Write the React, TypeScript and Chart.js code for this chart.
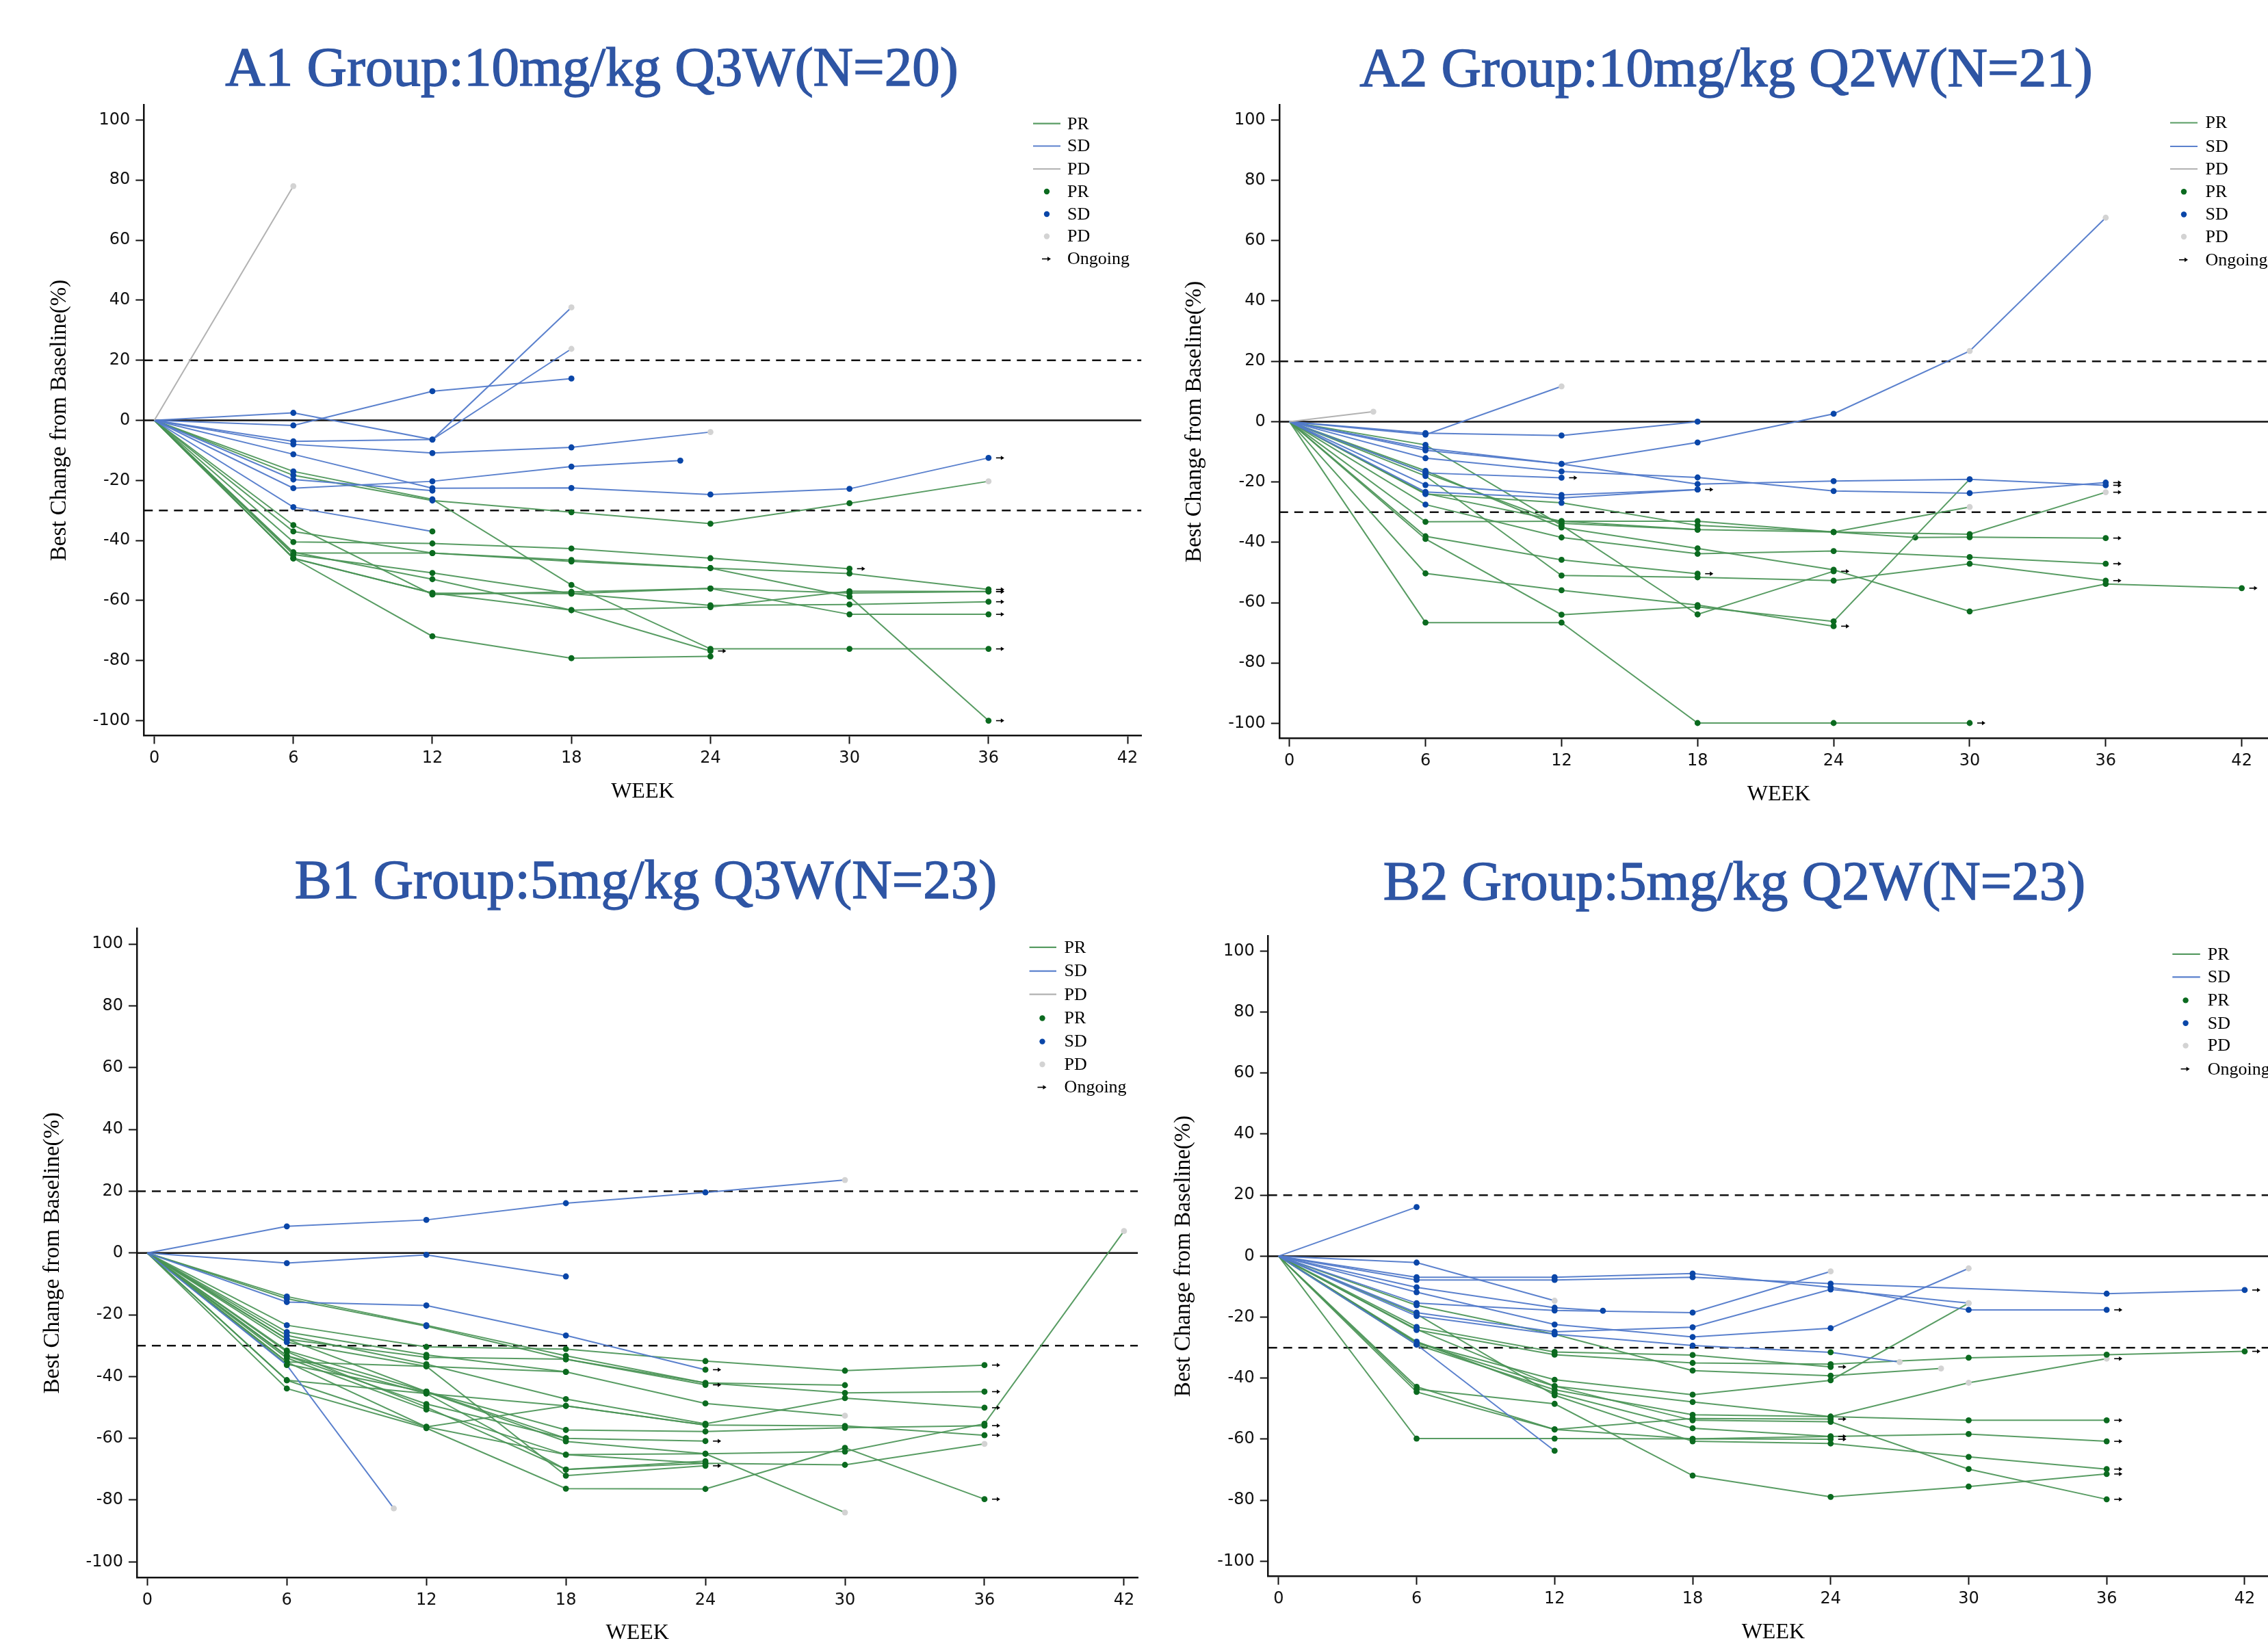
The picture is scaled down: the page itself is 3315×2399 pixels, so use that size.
import React, { useEffect, useRef } from "react";
import { Chart, registerables } from "chart.js";
Chart.register(...registerables);

// ---------------- DATA ----------------
const WEEK_TICKS = [0, 6, 12, 18, 24, 30, 36, 42];
const CHANGE_TICKS = [-100, -80, -60, -40, -20, 0, 20, 40, 60, 80, 100];
const REF_SOLID = [0];
const REF_DASHED = [20, -30];

const PANEL_TITLES = [
  "A1 Group:10mg/kg Q3W(N=20)",
  "A2 Group:10mg/kg Q2W(N=21)",
  "B1 Group:5mg/kg Q3W(N=23)",
  "B2 Group:5mg/kg Q2W(N=23)",
];
const Y_TITLE = "Best Change from Baseline(%)";
const X_TITLE = "WEEK";

// ---- A1 ----
const A1_RESP = ["PD", "SD", "SD", "SD", "SD", "SD", "SD", "SD", "SD", "PR", "PR", "PR", "PR", "PR", "PR", "PR", "PR", "PR", "PR", "PR"];
const A1_WEEKS = [
  [6], [6, 12, 18], [6, 12, 18], [6, 12, 18], [6, 12, 18, 24], [6, 12, 18, 24, 30, 36], [6, 12, 18, 22.7], [6, 12], [6, 12],
  [6, 12, 18, 24, 30, 36], [6, 12, 18, 24, 30], [6, 12, 18, 24, 30, 36], [6, 12, 18, 24, 30, 36], [6, 12, 18, 24, 30, 36],
  [6, 12, 18, 24, 30, 36], [6, 12, 18, 24, 30, 36], [6, 12, 18, 24], [6, 12, 18, 24], [6, 12, 18, 24, 30, 36], [6, 12, 18, 24, 30, 36],
];
const A1_CHANGE = [
  [78], [2.5, -6.4, 37.6], [-7, -6.4, 23.8], [-1.7, 9.7, 13.9], [-8, -10.9, -9, -3.9], [-11.3, -22.6, -22.5, -24.7, -22.8, -12.5],
  [-22.6, -20.3, -15.4, -13.4], [-28.9, -37], [-19.7, -23.4],
  [-18.3, -26.7, -30.6, -34.4, -27.6, -20.3], [-40.5, -41, -42.7, -45.9, -49.4], [-37, -44.2, -46.5, -49.2, -51, -56.3],
  [-34.9, -58, -57.1, -56, -64.6, -64.6], [-44.7, -50.8, -57.7, -61.6, -61.3, -60.4], [-43.9, -52.9, -63.2, -62.2, -56.9, -57],
  [-17, -26.3, -54.8, -76.1, -76.1, -76.1], [-45.9, -57.5, -63.2, -76.8], [-45.9, -71.9, -79.2, -78.6],
  [-44.2, -44.2, -47, -49.2, -58.7, -100], [-46, -57.5, -57.7, -56, -57.5, -57],
];
const A1_PD_WEEKS = [[6], [18], [18], [], [24], [], [], [], [], [36], [], [], [], [], [], [], [], [], [], []];
const A1_ONGOING = [0, 0, 0, 0, 0, 1, 0, 0, 0, 0, 1, 1, 1, 1, 1, 1, 1, 0, 1, 1];

// ---- A2 ----
const A2_RESP = ["PD", "SD", "SD", "SD", "SD", "SD", "SD", "SD", "SD", "PR", "PR", "PR", "PR", "PR", "PR", "PR", "PR", "PR", "PR", "PR", "PR"];
const A2_WEEKS = [
  [3.7], [6, 12, 18], [6, 12], [6, 12, 18, 24, 30, 36], [6, 12, 18, 24, 30, 36], [6, 12], [6, 12, 18, 24, 30, 36], [6, 12, 18], [6, 12, 18],
  [6, 12, 18, 24, 30], [6, 12, 18, 24], [6, 12, 18, 24, 30], [6, 12, 18], [6, 12, 18, 24, 30, 36], [6, 12, 18, 24],
  [6, 12, 18, 24, 30, 36], [6, 12, 18, 24, 30, 36], [6, 12, 18, 24, 30, 36, 42], [6, 12, 18, 24, 27.6, 30, 36], [6, 12, 18, 24, 30], [6, 12, 18],
];
const A2_CHANGE = [
  [3.3], [-3.8, -4.6, 0], [-4.3, 11.7], [-9.5, -14, -6.9, 2.6, 23.4, 67.6], [-12.1, -16.5, -18.5, -23, -23.7, -20.2], [-17, -18.6],
  [-8.8, -14, -20.7, -19.7, -19.1, -21.1], [-23.3, -25.3, -22.5], [-21, -24.3, -22.5],
  [-66.6, -66.6, -99.9, -99.9, -99.9], [-50.3, -55.9, -60.8, -67.8], [-38.9, -64, -61.4, -66.2, -19.1], [-38, -45.8, -50.4],
  [-33.2, -33, -33, -36.6, -37.3, -23.4], [-7.7, -34.4, -63.9, -49.6], [-27.5, -38.4, -43.8, -42.9, -44.9, -47.1],
  [-18, -51, -51.6, -52.7, -47.1, -52.7], [-16.3, -35.1, -42, -49.1, -62.9, -53.8, -55.2], [-17, -33.7, -35.8, -36.6, -38.4, -38.3, -38.6],
  [-24, -26.9, -34.4, -36.6, -28.3], [-23.8, -33, -35.8],
];
const A2_PD_WEEKS = [[3.7], [], [12], [30, 36], [], [], [], [], [], [], [], [30], [], [36], [], [], [], [], [], [30], []];
const A2_ONGOING = [0, 0, 0, 0, 1, 1, 1, 1, 0, 1, 1, 0, 1, 1, 1, 1, 1, 1, 1, 0, 0];

// ---- B1 ----
const B1_RESP = ["SD", "SD", "SD", "SD", "PR", "PR", "PR", "PR", "PR", "PR", "PR", "PR", "PR", "PR", "PR", "PR", "PR", "PR", "PR", "PR", "PR", "PR", "PR"];
const B1_WEEKS = [
  [6, 12, 18, 24, 30], [6, 12, 18], [6, 12, 18, 24], [6, 10.6],
  [6, 12, 18, 24, 30, 36], [6, 12, 18, 24], [6, 12, 18, 24, 30, 36], [6, 12, 18, 24, 30], [6, 12, 18, 24, 30, 36],
  [6, 12, 18, 24, 30, 36], [6, 12, 18, 24], [6, 12, 18, 24, 30, 36, 42], [6, 12, 18, 24, 30, 36], [6, 12, 18, 24, 30, 36],
  [6, 12, 18, 24, 30, 36], [6, 12, 18, 24, 30], [6, 12, 18, 24, 30], [6, 12, 18, 24], [6, 12, 18, 24], [6, 12, 18],
  [6, 12, 18, 24], [6, 12, 18], [6, 12, 18, 24],
];
const B1_CHANGE = [
  [8.6, 10.7, 16.1, 19.6, 23.6], [-3.3, -0.6, -7.6], [-15.9, -17, -26.7, -37.8], [-36.3, -82.7],
  [-14.1, -23.4, -33.3, -42.1, -45.3, -44.9], [-14.8, -23.7, -34.4, -42.7], [-23.4, -30.4, -31.1, -35, -38.1, -36.3],
  [-25.6, -33, -38.5, -48.7, -52.7], [-26.7, -36, -47.3, -55.3, -47, -50.1], [-31.6, -44.9, -57.3, -57.8, -56.6, -55.9],
  [-33.3, -48.9, -60, -60.9], [-34, -50.7, -65.3, -65, -64.3, -55.3, 7.1], [-35.3, -56.3, -49.5, -55.7, -56, -59],
  [-41.2, -45.5, -70.1, -68.1, -68.6, -61.8], [-43.9, -56.7, -76.3, -76.4, -63.1, -79.7], [-36, -45, -61, -65, -84],
  [-27.9, -33.8, -34.4, -42.1, -42.8], [-28.9, -36.7, -72.1, -68.9], [-32, -49.9, -70.1, -67.4], [-35.3, -36.7, -38.5],
  [-41.2, -56.3, -65.3, -68.1], [-27.9, -44.9, -60], [-33.3, -45.5, -49.5, -55.7],
];
const B1_PD_WEEKS = [[30], [], [], [10.6], [], [], [], [30], [], [], [], [42], [], [36], [], [30], [], [], [], [], [], [], []];
const B1_ONGOING = [0, 0, 1, 0, 1, 1, 1, 0, 1, 1, 1, 0, 1, 0, 1, 0, 0, 1, 0, 0, 0, 0, 0];

// ---- B2 ----
const B2_RESP = ["SD", "SD", "SD", "SD", "SD", "SD", "SD", "SD", "SD", "SD", "PR", "PR", "PR", "PR", "PR", "PR", "PR", "PR", "PR", "PR", "PR", "PR", "PR"];
const B2_WEEKS = [
  [6], [6, 12], [6, 12, 18, 24, 30, 36], [6, 12, 18, 24, 36, 42], [6, 12, 14.1], [6, 12, 18, 24, 30], [6, 12, 18, 24],
  [6, 12, 18, 24, 30], [6, 12], [6, 12, 18, 24, 27],
  [6, 12, 18, 24], [6, 12, 18, 24, 30, 36], [6, 12, 18, 24], [6, 12, 18, 24], [6, 12, 18, 24, 30, 36, 42], [6, 12, 18, 24, 28.8],
  [6, 12, 18, 24, 30], [6, 12, 18, 24, 30, 36], [6, 12, 18, 24, 30, 36], [6, 12, 18, 24, 30, 36], [6, 12, 18, 24, 30, 36],
  [6, 12, 18, 24, 30, 36], [6, 12, 18, 24],
];
const B2_CHANGE = [
  [16.1], [-2.1, -14.6], [-6.9, -6.9, -5.7, -10.2, -17.6, -17.6], [-7.8, -7.8, -6.9, -9, -12.3, -11.1], [-10.2, -16.9, -17.9],
  [-11.8, -22.4, -26.5, -23.6, -4], [-15.4, -17.8, -18.5, -5], [-18.5, -24.8, -23.3, -10.9, -15.4], [-29, -63.8],
  [-19.6, -25.6, -29.3, -31.5, -34.7],
  [-59.8, -59.8, -59.9, -60], [-43.6, -48.4, -71.9, -78.9, -75.5, -71.4], [-42.8, -56.8, -53.2, -53.4], [-23.2, -31.4, -32.4, -36.3],
  [-24.2, -32.3, -35, -35.4, -33.3, -32.3, -31.2], [-16.1, -25.6, -37.5, -39.2, -36.8], [-28.4, -40.5, -45.4, -40.7, -15.4],
  [-28.4, -42.6, -47.8, -52.6, -41.5, -33.6], [-29, -43.8, -52, -52.6, -53.8, -53.8], [-28, -44.8, -56.4, -59.1, -58.3, -60.7],
  [-19, -45.6, -60.7, -61.4, -65.8, -69.8], [-24, -42.6, -53.8, -54.3, -69.8, -79.7], [-44.5, -56.8, -59.9, -59.1],
];
const B2_PD_WEEKS = [[], [12], [], [], [], [30], [24], [30], [], [27], [], [], [], [], [], [28.8], [30], [30, 36], [], [], [], [], []];
const B2_ONGOING = [0, 0, 1, 1, 0, 0, 0, 0, 0, 0, 1, 1, 1, 1, 1, 0, 0, 1, 1, 1, 1, 1, 1];

// ---------------- STYLE ----------------
const LINE_COLORS: Record<string, string> = { PR: "rgba(74,148,86,0.92)", SD: "rgba(82,122,202,0.95)", PD: "#b2b2b2" };
const DOT_COLORS: Record<string, string> = { PR: "#0b6a1f", SD: "#0a46a8", PD: "#d3d3d3" };
const TITLE_COLOR = "#2e55a4";
const SERIF = '"Liberation Serif", "Times New Roman", serif';
const SANS = '"DejaVu Sans", Verdana, sans-serif';

type LegendItem = { kind: "line" | "dot" | "arrow"; key: string; label: string };
const LEGEND_FULL: LegendItem[] = [
  { kind: "line", key: "PR", label: "PR" },
  { kind: "line", key: "SD", label: "SD" },
  { kind: "line", key: "PD", label: "PD" },
  { kind: "dot", key: "PR", label: "PR" },
  { kind: "dot", key: "SD", label: "SD" },
  { kind: "dot", key: "PD", label: "PD" },
  { kind: "arrow", key: "", label: "Ongoing" },
];
const LEGEND_NO_PD_LINE: LegendItem[] = LEGEND_FULL.filter((it) => !(it.kind === "line" && it.key === "PD"));

type PanelCfg = {
  title: string;
  titleX: number;
  titleBase: number;
  canvas: { left: number; top: number; w: number; h: number };
  area: { l: number; t: number; r: number; b: number };
  xMin: number;
  xMax: number;
  yMin: number;
  yMax: number;
  legend: { x0: number; x1: number; dot: number; text: number; rows: number[]; items: LegendItem[] };
  resp: string[];
  weeks: number[][];
  change: number[][];
  pd: number[][];
  ongoing: number[];
};

const PANELS: PanelCfg[] = [
  {
    title: PANEL_TITLES[0], titleX: 865, titleBase: 125,
    canvas: { left: 0, top: 20, w: 1700, h: 1180 },
    area: { l: 210.3, t: 153.5, r: 1668.4, b: 1075.5 },
    xMin: -0.45, xMax: 42.6, yMin: -105, yMax: 105,
    legend: { x0: 1510, x1: 1550, dot: 1530, text: 1560, rows: [180.7, 213.5, 247, 280, 313, 345.5, 378.5], items: LEGEND_FULL },
    resp: A1_RESP, weeks: A1_WEEKS, change: A1_CHANGE, pd: A1_PD_WEEKS, ongoing: A1_ONGOING,
  },
  {
    title: PANEL_TITLES[1], titleX: 2523, titleBase: 126,
    canvas: { left: 1700, top: 20, w: 1640, h: 1180 },
    area: { l: 1869.8, t: 153.3, r: 3330, b: 1079.5 },
    xMin: -0.45, xMax: 43.61, yMin: -105, yMax: 105,
    legend: { x0: 3172, x1: 3212, dot: 3192, text: 3223.5, rows: [179.5, 214, 247, 280.3, 313.5, 346, 379.8], items: LEGEND_FULL },
    resp: A2_RESP, weeks: A2_WEEKS, change: A2_CHANGE, pd: A2_PD_WEEKS, ongoing: A2_ONGOING,
  },
  {
    title: PANEL_TITLES[2], titleX: 944, titleBase: 1313,
    canvas: { left: 0, top: 1200, w: 1700, h: 1199 },
    area: { l: 200, t: 1357.5, r: 1663.3, b: 2305.9 },
    xMin: -0.45, xMax: 42.6, yMin: -105, yMax: 105,
    legend: { x0: 1504.6, x1: 1544, dot: 1523.5, text: 1555.6, rows: [1384.8, 1419.6, 1453.7, 1488.5, 1522.6, 1556, 1589.5], items: LEGEND_FULL },
    resp: B1_RESP, weeks: B1_WEEKS, change: B1_CHANGE, pd: B1_PD_WEEKS, ongoing: B1_ONGOING,
  },
  {
    title: PANEL_TITLES[3], titleX: 2535, titleBase: 1315,
    canvas: { left: 1700, top: 1200, w: 1640, h: 1199 },
    area: { l: 1853.7, t: 1368.1, r: 3330, b: 2304.7 },
    xMin: -0.45, xMax: 43.46, yMin: -105, yMax: 105,
    legend: { x0: 3175.3, x1: 3215.8, dot: 3194.6, text: 3226.8, rows: [1394.8, 1428.3, 1462.4, 1495.8, 1528.6, 1562.7], items: LEGEND_NO_PD_LINE },
    resp: B2_RESP, weeks: B2_WEEKS, change: B2_CHANGE, pd: B2_PD_WEEKS, ongoing: B2_ONGOING,
  },
];

function dotColors(resp: string, weeks: number[], vals: number[], pd: number[]): string[] {
  let reached = false;
  return weeks.map((w, i) => {
    const v = vals[i];
    if (resp === "PD" || pd.includes(w) || v >= 20) return DOT_COLORS.PD;
    if (v <= -30) {
      reached = true;
      return DOT_COLORS.PR;
    }
    if (resp === "PR" && reached) return DOT_COLORS.PR;
    return DOT_COLORS.SD;
  });
}

function drawArrow(ctx: CanvasRenderingContext2D, x0: number, x1: number, y: number) {
  ctx.save();
  ctx.strokeStyle = "#000";
  ctx.fillStyle = "#000";
  ctx.lineWidth = 1.6;
  ctx.beginPath();
  ctx.moveTo(x0, y);
  ctx.lineTo(x1 - 3, y);
  ctx.stroke();
  ctx.beginPath();
  ctx.moveTo(x1, y);
  ctx.lineTo(x1 - 5, y - 3.2);
  ctx.lineTo(x1 - 5, y + 3.2);
  ctx.closePath();
  ctx.fill();
  ctx.restore();
}

function PanelChart({ p }: { p: PanelCfg }) {
  const ref = useRef<HTMLCanvasElement | null>(null);
  useEffect(() => {
    const canvas = ref.current;
    if (!canvas) return;
    const { left, top, w, h } = p.canvas;
    const a = p.area;
    const padTop = a.t - top;
    const yW = a.l - left;
    const padRight = left + w - a.r;
    const xH = top + h - a.b;

    const datasets: any[] = [];
    p.resp.forEach((r, i) => {
      const wk = p.weeks[i];
      const vals = p.change[i];
      const pts = [{ x: 0, y: 0 }, ...wk.map((x, j) => ({ x, y: vals[j] }))];
      const cols = ["rgba(0,0,0,0)", ...dotColors(r, wk, vals, p.pd[i])];
      datasets.push({
        data: pts,
        showLine: true,
        borderColor: LINE_COLORS[r],
        borderWidth: 2,
        tension: 0,
        pointRadius: pts.map((_, j) => (j === 0 ? 0 : 4.4)),
        pointBackgroundColor: cols,
        pointBorderColor: cols,
        pointBorderWidth: 0,
        order: 1,
      });
    });
    REF_SOLID.forEach((lv) => {
      datasets.push({
        data: [{ x: p.xMin, y: lv }, { x: p.xMax, y: lv }],
        showLine: true, borderColor: "#111", borderWidth: 2.5, pointRadius: 0, order: 100,
      });
    });
    REF_DASHED.forEach((lv) => {
      datasets.push({
        data: [{ x: p.xMin, y: lv }, { x: p.xMax, y: lv }],
        showLine: true, borderColor: "#111", borderWidth: 2.5, borderDash: [13, 9], pointRadius: 0, order: 100,
      });
    });

    const nPatients = p.resp.length;
    const decor = {
      id: "decor",
      afterDraw(chart: any) {
        const ctx: CanvasRenderingContext2D = chart.ctx;
        const ca = chart.chartArea;
        // ongoing arrows
        for (let i = 0; i < nPatients; i++) {
          if (!p.ongoing[i]) continue;
          const meta = chart.getDatasetMeta(i);
          const el = meta.data[meta.data.length - 1];
          if (el) drawArrow(ctx, el.x + 11, el.x + 23, el.y);
        }
        // title (slightly heavier stroke, like the reference)
        ctx.save();
        ctx.fillStyle = TITLE_COLOR;
        ctx.strokeStyle = TITLE_COLOR;
        ctx.lineWidth = 1.4;
        ctx.font = `81px ${SERIF}`;
        ctx.textAlign = "center";
        ctx.textBaseline = "alphabetic";
        ctx.fillText(p.title, p.titleX - left, p.titleBase - top);
        ctx.strokeText(p.title, p.titleX - left, p.titleBase - top);
        ctx.restore();
        // y title
        ctx.save();
        ctx.fillStyle = "#000";
        ctx.font = `33px ${SERIF}`;
        ctx.translate(ca.left - 123, (ca.top + ca.bottom) / 2);
        ctx.rotate(-Math.PI / 2);
        ctx.textAlign = "center";
        ctx.textBaseline = "middle";
        ctx.fillText(Y_TITLE, 0, 0);
        ctx.restore();
        // x title
        ctx.save();
        ctx.fillStyle = "#000";
        ctx.font = `32px ${SERIF}`;
        ctx.textAlign = "center";
        ctx.textBaseline = "alphabetic";
        ctx.fillText(X_TITLE, (ca.left + ca.right) / 2, ca.bottom + 90.5);
        ctx.restore();
        // legend
        const lg = p.legend;
        lg.items.forEach((it, k) => {
          const y = lg.rows[k] - top;
          ctx.save();
          if (it.kind === "line") {
            ctx.strokeStyle = LINE_COLORS[it.key];
            ctx.lineWidth = 2.2;
            ctx.beginPath();
            ctx.moveTo(lg.x0 - left, y);
            ctx.lineTo(lg.x1 - left, y);
            ctx.stroke();
          } else if (it.kind === "dot") {
            ctx.fillStyle = DOT_COLORS[it.key];
            ctx.beginPath();
            ctx.arc(lg.dot - left, y, 4.2, 0, Math.PI * 2);
            ctx.fill();
          } else {
            drawArrow(ctx, lg.dot - left - 7, lg.dot - left + 6, y);
          }
          ctx.fillStyle = "#000";
          ctx.font = `26px ${SERIF}`;
          ctx.textAlign = "left";
          ctx.textBaseline = "middle";
          ctx.fillText(it.label, lg.text - left, y + 1);
          ctx.restore();
        });
      },
    };

    const tickFont = { family: SANS, size: 24 };
    const chart = new Chart(canvas, {
      type: "scatter",
      data: { datasets },
      options: {
        animation: false,
        responsive: false,
        devicePixelRatio: 1,
        layout: { padding: { top: padTop, right: padRight, left: 0, bottom: 0 } },
        plugins: { legend: { display: false }, tooltip: { enabled: false }, title: { display: false } },
        scales: {
          x: {
            type: "linear",
            min: p.xMin,
            max: p.xMax,
            afterBuildTicks: (s: any) => {
              s.ticks = WEEK_TICKS.map((v) => ({ value: v }));
            },
            afterFit: (s: any) => {
              s.height = xH;
            },
            ticks: { font: tickFont, color: "#111", padding: 7, autoSkip: false, maxRotation: 0, callback: (v: any) => String(v) },
            grid: { display: true, drawOnChartArea: false, drawTicks: true, tickLength: 12, tickWidth: 2, tickColor: "#111" },
            border: { display: true, color: "#111", width: 2.5 },
          },
          y: {
            type: "linear",
            min: p.yMin,
            max: p.yMax,
            afterBuildTicks: (s: any) => {
              s.ticks = CHANGE_TICKS.map((v) => ({ value: v }));
            },
            afterFit: (s: any) => {
              s.width = yW;
            },
            ticks: { font: tickFont, color: "#111", padding: 8, autoSkip: false, callback: (v: any) => String(v) },
            grid: { display: true, drawOnChartArea: false, drawTicks: true, tickLength: 12, tickWidth: 2, tickColor: "#111" },
            border: { display: true, color: "#111", width: 2.5 },
          },
        },
      } as any,
      plugins: [decor],
    });
    return () => chart.destroy();
  }, [p]);
  return (
    <canvas
      ref={ref}
      width={p.canvas.w}
      height={p.canvas.h}
      style={{ position: "absolute", left: p.canvas.left, top: p.canvas.top, width: p.canvas.w, height: p.canvas.h }}
    />
  );
}

export default function App() {
  return (
    <div style={{ position: "fixed", left: 0, top: 0, width: 3315, height: 2399, overflow: "hidden", background: "#fff" }}>
      {PANELS.map((p, i) => (
        <PanelChart key={i} p={p} />
      ))}
    </div>
  );
}
